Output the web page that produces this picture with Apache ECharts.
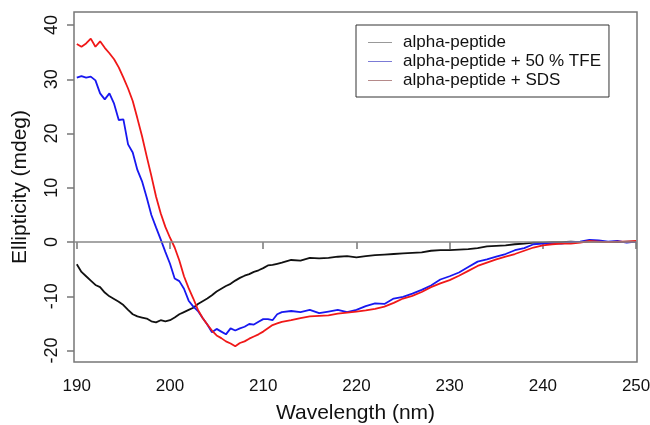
<!DOCTYPE html>
<html>
<head>
<meta charset="utf-8">
<title>CD spectra</title>
<script src="https://cdn.jsdelivr.net/npm/echarts@6/dist/echarts.min.js"></script>
<style>
	html, body {margin: 0; padding: 0; background: #fff;}
	#chart {width: 650px; height: 425px;}
</style>
</head>
<body>
<div id="chart"></div>
<script>
// wavelength (nm), half steps up to 212 then 1 nm
var wavelength = [190, 190.5, 191, 191.5, 192, 192.5, 193, 193.5, 194, 194.5,
	195, 195.5, 196, 196.5, 197, 197.5, 198, 198.5, 199, 199.5,
	200, 200.5, 201, 201.5, 202, 202.5, 203, 203.5, 204, 204.5,
	205, 205.5, 206, 206.5, 207, 207.5, 208, 208.5, 209, 209.5,
	210, 210.5, 211, 211.5, 212, 213, 214, 215, 216, 217,
	218, 219, 220, 221, 222, 223, 224, 225, 226, 227,
	228, 229, 230, 231, 232, 233, 234, 235, 236, 237,
	238, 239, 240, 241, 242, 243, 244, 245, 246, 247,
	248, 249, 250];

var peptide = [-4.1, -5.5, -6.3, -7.1, -7.9, -8.3, -9.3, -10.0, -10.5, -11.0,
	-11.6, -12.5, -13.3, -13.7, -13.9, -14.1, -14.6, -14.8, -14.4, -14.6,
	-14.4, -13.9, -13.3, -12.9, -12.5, -12.1, -11.4, -10.9, -10.4, -9.8,
	-9.1, -8.6, -8.1, -7.7, -7.1, -6.6, -6.2, -5.9, -5.5, -5.2,
	-4.8, -4.3, -4.2, -4.0, -3.8, -3.3, -3.4, -2.9, -3.0, -2.9,
	-2.7, -2.6, -2.8, -2.6, -2.4, -2.3, -2.2, -2.1, -2.0, -1.9,
	-1.6, -1.5, -1.5, -1.4, -1.3, -1.1, -0.8, -0.7, -0.6, -0.4,
	-0.3, -0.1, -0.1, 0.0, 0.0, 0.1, 0.0, 0.1, 0.1, 0.0,
	0.0, 0.1, 0.1];

var peptideTFE = [30.3, 30.6, 30.3, 30.5, 29.8, 27.4, 26.3, 27.4, 25.5, 22.5,
	22.6, 18.0, 16.5, 13.3, 11.2, 8.2, 5.0, 2.7, 0.5, -1.8,
	-4.0, -6.7, -7.2, -8.6, -10.8, -11.9, -12.7, -14.0, -15.2, -16.6,
	-16.0, -16.5, -17.0, -15.9, -16.3, -15.9, -15.6, -15.1, -15.2, -14.7,
	-14.2, -14.2, -14.4, -13.3, -12.9, -12.7, -12.9, -12.5, -13.1, -12.8,
	-12.5, -12.9, -12.5, -11.8, -11.3, -11.4, -10.4, -10.1, -9.5, -8.8,
	-8.0, -6.9, -6.3, -5.6, -4.6, -3.6, -3.2, -2.7, -2.2, -1.5,
	-1.1, -0.4, -0.3, -0.2, -0.3, 0.0, 0.1, 0.4, 0.3, 0.1,
	0.2, -0.1, 0.1];

var peptideSDS = [36.5, 36.0, 36.6, 37.5, 36.0, 37.0, 35.8, 34.8, 33.7, 32.2,
	30.3, 28.3, 26.0, 22.8, 19.5, 15.8, 12.2, 8.4, 5.3, 2.8,
	0.8, -1.0, -3.4, -6.3, -8.5, -10.4, -12.5, -14.0, -15.2, -16.3,
	-17.2, -17.7, -18.3, -18.7, -19.2, -18.6, -18.3, -17.8, -17.4, -17.0,
	-16.5, -15.9, -15.3, -15.0, -14.7, -14.4, -14.0, -13.7, -13.6, -13.5,
	-13.2, -13.0, -12.8, -12.6, -12.3, -11.9, -11.2, -10.4, -9.9, -9.2,
	-8.3, -7.6, -7.0, -6.2, -5.3, -4.4, -3.8, -3.2, -2.7, -2.2,
	-1.6, -1.0, -0.6, -0.4, -0.3, -0.3, -0.1, 0.2, 0.1, 0.0,
	0.1, 0.1, 0.2];

var seriesNames = ['alpha-peptide', 'alpha-peptide + 50 % TFE', 'alpha-peptide + SDS'];
var legendColors = ['#999999', '#7b7bd6', '#b58a8a'];
var xTicks = [190, 200, 210, 220, 230, 240, 250];
var yTicks = [-20, -10, 0, 10, 20, 30, 40];

function pairs(xs, ys){
	var out = [];
	for (var i = 0; i < xs.length; i++) {
		out.push([xs[i], ys[i]]);
	}
	return out;
}

var font = 'Liberation Sans, Arial, sans-serif';
var chart = echarts.init(document.getElementById('chart'), null, {renderer: 'canvas'});

var legendData = [];
for (var k = 0; k < seriesNames.length; k++) {
	legendData.push({
		name: seriesNames[k],
		icon: 'rect',
		itemStyle: {color: legendColors[k]}
	});
}

var option = {
	animation: false,
	backgroundColor: '#fff',
	grid: {
		left: 74, right: 13, top: 12, bottom: 63,
		show: true,
		borderColor: '#777',
		borderWidth: 1.5,
		containLabel: false,
		outerBoundsMode: 'none'
	},
	legend: {
		show: true,
		orient: 'vertical',
		left: 356,
		top: 25,
		padding: [9, 8, 8, 12],
		itemWidth: 24,
		itemHeight: 1,
		itemGap: 2,
		borderColor: '#333',
		borderWidth: 1,
		textStyle: {
			fontFamily: font,
			fontSize: 17,
			lineHeight: 17,
			color: '#111',
			padding: [0, 0, 0, 6]
		},
		data: legendData
	},
	xAxis: {
		type: 'value',
		min: 189.7,
		max: 250.1,
		name: 'Wavelength (nm)',
		nameLocation: 'middle',
		nameGap: 41,
		nameTextStyle: {fontFamily: font, fontSize: 21, color: '#111'},
		axisLine: {show: false},
		axisTick: {
			show: true,
			length: 7,
			customValues: xTicks,
			lineStyle: {color: '#777', width: 1.5}
		},
		axisLabel: {
			customValues: xTicks,
			margin: 16,
			fontFamily: font,
			fontSize: 17,
			color: '#111'
		},
		splitLine: {show: false}
	},
	yAxis: {
		type: 'value',
		min: -22.1,
		max: 42.4,
		name: 'Ellipticity (mdeg)',
		nameLocation: 'middle',
		nameGap: 43,
		nameTextStyle: {fontFamily: font, fontSize: 21, color: '#111'},
		axisLine: {show: false},
		axisTick: {
			show: true,
			length: 7,
			customValues: yTicks,
			lineStyle: {color: '#777', width: 1.5}
		},
		axisLabel: {
			customValues: yTicks,
			rotate: 90,
			margin: 13,
			fontFamily: font,
			fontSize: 18,
			color: '#111'
		},
		splitLine: {show: false}
	},
	series: [{
		name: seriesNames[0],
		type: 'line',
		showSymbol: false,
		symbol: 'none',
		lineStyle: {color: '#111', width: 1.8},
		itemStyle: {color: '#111'},
		data: pairs(wavelength, peptide),
		markLine: {
			silent: true,
			symbol: 'none',
			label: {show: false},
			lineStyle: {color: '#888', width: 1.5, type: 'solid'},
			data: [{yAxis: 0}]
		}
	}, {
		name: seriesNames[1],
		type: 'line',
		showSymbol: false,
		symbol: 'none',
		lineStyle: {color: '#1818f0', width: 1.8},
		itemStyle: {color: '#1818f0'},
		data: pairs(wavelength, peptideTFE)
	}, {
		name: seriesNames[2],
		type: 'line',
		showSymbol: false,
		symbol: 'none',
		lineStyle: {color: '#f01818', width: 1.8},
		itemStyle: {color: '#f01818'},
		data: pairs(wavelength, peptideSDS)
	}]
};
chart.setOption(option);
</script>
</body>
</html>
